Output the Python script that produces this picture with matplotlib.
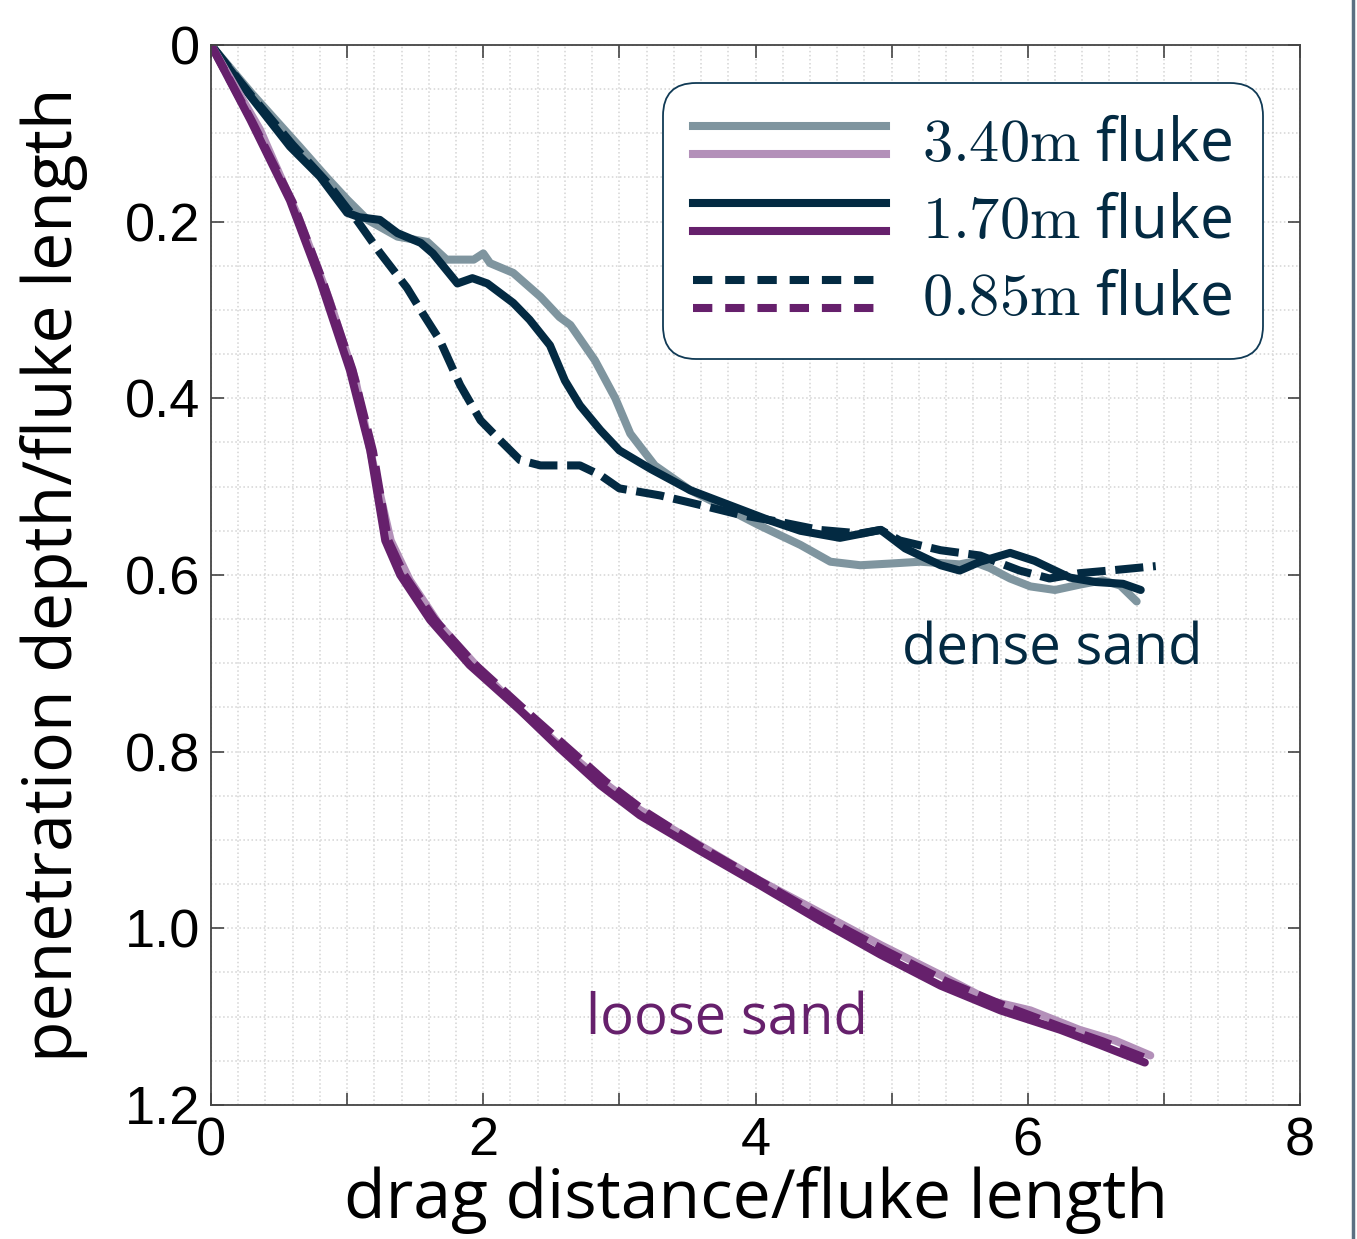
import matplotlib
matplotlib.use("Agg")
import matplotlib.pyplot as plt
from matplotlib.lines import Line2D
from matplotlib.legend_handler import HandlerBase
from matplotlib.ticker import MultipleLocator, FixedLocator, FixedFormatter

plt.rcParams['font.family'] = ['Open Sans', 'DejaVu Sans']
plt.rcParams['mathtext.fontset'] = 'cm'

# colours
dense_light = '#7f959f'
dense_dark = '#032a42'
loose_light = '#b390b9'
loose_dark = '#66206c'

# dense sand, 3.40m fluke
d340_x = [0, 0.3, 0.65, 0.85, 1.0, 1.15, 1.37, 1.59, 1.73, 1.93, 2.0, 2.05, 2.22, 2.42, 2.56, 2.64,
          2.82, 2.97, 3.08, 3.26, 3.52, 3.74, 4.03, 4.33, 4.55, 4.77, 5.0, 5.21, 5.5, 5.6, 5.72,
          5.87, 6.02, 6.2, 6.38, 6.55, 6.68, 6.8]
d340_y = [0, 0.055, 0.115, 0.15, 0.175, 0.198, 0.217, 0.223, 0.243, 0.243, 0.236, 0.247, 0.258,
          0.285, 0.308, 0.317, 0.357, 0.40, 0.44, 0.476, 0.504, 0.521, 0.544, 0.566, 0.585, 0.589,
          0.587, 0.585, 0.588, 0.585, 0.592, 0.604, 0.613, 0.617, 0.611, 0.606, 0.612, 0.63]

# dense sand, 1.70m fluke
d170_x = [0, 0.3, 0.58, 0.8, 1.0, 1.09, 1.24, 1.37, 1.54, 1.63, 1.81, 1.92, 2.03, 2.22, 2.34,
          2.49, 2.6, 2.71, 2.86, 3.0, 3.23, 3.52, 3.81, 4.1, 4.33, 4.62, 4.92, 5.1, 5.36, 5.5,
          5.65, 5.87, 6.05, 6.31, 6.5, 6.7, 6.83]
d170_y = [0, 0.06, 0.115, 0.149, 0.19, 0.195, 0.198, 0.213, 0.224, 0.236, 0.27, 0.264, 0.27,
          0.292, 0.311, 0.34, 0.38, 0.408, 0.436, 0.459, 0.48, 0.504, 0.521, 0.538, 0.55, 0.558,
          0.549, 0.57, 0.589, 0.595, 0.585, 0.575, 0.584, 0.603, 0.608, 0.61, 0.617]

# dense sand, 0.85m fluke
d085_x = [0, 0.3, 0.6, 0.85, 1.0, 1.07, 1.24, 1.44, 1.56, 1.68, 1.83, 1.98, 2.12, 2.27, 2.42,
          2.71, 2.86, 3.0, 3.3, 3.6, 3.89, 4.18, 4.47, 4.77, 4.92, 5.06, 5.36, 5.65, 5.94, 6.16,
          6.38, 6.6, 6.94]
d085_y = [0, 0.058, 0.113, 0.155, 0.185, 0.198, 0.235, 0.275, 0.305, 0.334, 0.385, 0.425, 0.447,
          0.47, 0.476, 0.476, 0.487, 0.502, 0.51, 0.521, 0.532, 0.54, 0.549, 0.553, 0.549, 0.561,
          0.572, 0.578, 0.595, 0.604, 0.598, 0.595, 0.59]

# loose sand, 3.40m fluke
l340_x = [0, 0.36, 0.65, 0.87, 1.06, 1.2, 1.32, 1.46, 1.68, 1.98, 2.27, 2.56, 2.86, 3.15, 3.59,
          4.03, 4.47, 4.92, 5.36, 5.72, 6.02, 6.38, 6.64, 6.9]
l340_y = [0, 0.096, 0.198, 0.289, 0.379, 0.481, 0.561, 0.606, 0.657, 0.708, 0.753, 0.793, 0.832,
          0.866, 0.906, 0.946, 0.982, 1.019, 1.053, 1.082, 1.093, 1.115, 1.127, 1.144]

# loose sand, 1.70m fluke
l170_x = [0, 0.29, 0.58, 0.8, 1.02, 1.17, 1.28, 1.39, 1.61, 1.9, 2.27, 2.56, 2.86, 3.15, 3.59,
          4.03, 4.47, 4.92, 5.36, 5.8, 6.24, 6.53, 6.86]
l170_y = [0, 0.085, 0.176, 0.266, 0.368, 0.459, 0.561, 0.6, 0.651, 0.702, 0.753, 0.796, 0.838,
          0.872, 0.912, 0.951, 0.991, 1.03, 1.065, 1.093, 1.115, 1.132, 1.152]

# loose sand, 0.85m fluke
l085_x = [0, 0.3, 0.6, 0.82, 1.04, 1.19, 1.3, 1.42, 1.64, 1.93, 2.3, 2.6, 2.9, 3.2, 3.6,
          4.05, 4.5, 4.95, 5.4, 5.85, 6.25, 6.55, 6.85]
l085_y = [0, 0.086, 0.178, 0.267, 0.368, 0.46, 0.56, 0.6, 0.65, 0.7, 0.752, 0.793, 0.834,
          0.869, 0.908, 0.948, 0.988, 1.025, 1.06, 1.089, 1.112, 1.128, 1.146]

legend_labels = [r'$3.40\mathrm{m}$ fluke', r'$1.70\mathrm{m}$ fluke', r'$0.85\mathrm{m}$ fluke']


class TwoLineHandler(HandlerBase):
    def create_artists(self, legend, orig_handle, xdescent, ydescent, width, height, fontsize, trans):
        top, bottom = orig_handle
        yc = height / 2.0 - ydescent
        off = 0.23 * fontsize
        arts = []
        for h, dy in ((top, off), (bottom, -off)):
            ln = Line2D([-xdescent, -xdescent + width], [yc + dy, yc + dy],
                        color=h.get_color(), linestyle=h.get_linestyle(),
                        linewidth=h.get_linewidth(), transform=trans)
            if h.get_linestyle() not in ('-', 'solid'):
                ln.set_dashes((2.4, 1.6))
            arts.append(ln)
        return arts


fig = plt.figure(figsize=(13.57, 12.39), dpi=100)
ax = fig.add_axes([0.1555, 0.1082, 0.8025, 0.8555])

lw = 5.8
dash = (3.5, 1.2)
ax.plot(d340_x, d340_y, color=dense_light, lw=lw, solid_capstyle='round', solid_joinstyle='round')
ax.plot(d170_x, d170_y, color=dense_dark, lw=lw, solid_capstyle='round', solid_joinstyle='round')
ax.plot(d085_x, d085_y, color=dense_dark, lw=lw, dashes=dash)
ax.plot(l340_x, l340_y, color=loose_light, lw=lw, solid_capstyle='round', solid_joinstyle='round')
ax.plot(l170_x, l170_y, color=loose_dark, lw=lw, solid_capstyle='round', solid_joinstyle='round')
ax.plot(l085_x, l085_y, color=loose_dark, lw=lw, dashes=dash)

ax.set_xlim(0, 8)
ax.set_ylim(1.2, 0)

ax.xaxis.set_major_locator(FixedLocator([0, 1, 2, 3, 4, 5, 6, 7, 8]))
ax.xaxis.set_major_formatter(FixedFormatter(['0', '', '2', '', '4', '', '6', '', '8']))
ax.xaxis.set_minor_locator(MultipleLocator(0.2))
ax.yaxis.set_major_locator(FixedLocator([0, 0.2, 0.4, 0.6, 0.8, 1.0, 1.2]))
ax.yaxis.set_major_formatter(FixedFormatter(['0', '0.2', '0.4', '0.6', '0.8', '1.0', '1.2']))
ax.yaxis.set_minor_locator(MultipleLocator(0.05))

ax.grid(which='both', color='#d4d4d4', linestyle=':', linewidth=1.1)
ax.set_axisbelow(True)
ax.tick_params(which='major', direction='in', length=9, width=1.2, color='#444444',
               top=True, right=True, labelsize=39, pad=8)
ax.tick_params(which='minor', length=0)
for lab in ax.get_xticklabels() + ax.get_yticklabels():
    lab.set_fontfamily(['Liberation Sans', 'DejaVu Sans'])
for s in ax.spines.values():
    s.set_color('#444444')
    s.set_linewidth(1.3)

ax.set_xlabel('drag distance/fluke length', fontsize=49)
ax.set_ylabel('penetration depth/fluke length', fontsize=49)
ax.xaxis.set_label_coords(0.5, -0.058)
ax.yaxis.set_label_coords(-0.113, 0.5)

ax.text(6.18, 0.685, 'dense sand', color=dense_dark, fontsize=40.5, ha='center', va='center')
ax.text(3.79, 1.104, 'loose sand', color=loose_dark, fontsize=40.5, ha='center', va='center')

handles = [
    (Line2D([], [], color=dense_light, lw=lw), Line2D([], [], color=loose_light, lw=lw)),
    (Line2D([], [], color=dense_dark, lw=lw), Line2D([], [], color=loose_dark, lw=lw)),
    (Line2D([], [], color=dense_dark, lw=lw, ls='--'), Line2D([], [], color=loose_dark, lw=lw, ls='--')),
]
leg = ax.legend(handles, legend_labels, handler_map={tuple: TwoLineHandler()},
                loc='upper right', bbox_to_anchor=(0.966, 0.964), borderaxespad=0,
                fontsize=43.5, handlelength=3.2, handleheight=1.0, handletextpad=0.6,
                labelspacing=0.25, borderpad=0.5, frameon=True, fancybox=True,
                labelcolor=dense_dark)
fr = leg.get_frame()
fr.set_edgecolor('#103a55')
fr.set_linewidth(1.3)
fr.set_alpha(1)
fr.set_boxstyle('round', pad=0, rounding_size=0.55)

fig.add_artist(Line2D([0.997, 0.997], [0, 1], transform=fig.transFigure, color='#5b7082', lw=2.5))

fig.savefig('out.png', dpi=100)
